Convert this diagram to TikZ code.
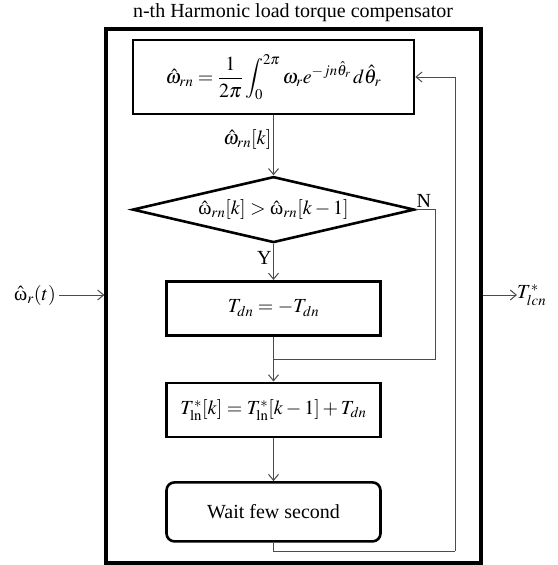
\documentclass[tikz,border=0pt]{standalone}
\usepackage{mathptmx}
\usepackage{fontspec}
\setmainfont{Liberation Serif}
\usetikzlibrary{positioning,shapes.geometric,arrows.meta,calc}
\tikzset{
  % --- flowchart blocks -------------------------------------------------------
  proc/.style={draw,line width=2.6pt,minimum width=214pt,minimum height=54pt,
               inner sep=2pt},
  dec/.style={diamond,draw,line width=2.6pt,aspect=4.27,minimum width=282pt,
              minimum height=66pt,inner sep=0pt},
  waitbox/.style={proc,rounded corners=8pt,minimum height=59pt},
  frm/.style={draw,line width=3.2pt,minimum width=375pt,minimum height=534pt},
  % --- connectors ------------------------------------------------------------
  ln/.style={black!70,line width=1pt},
  ar/.style={ln,-{Straight Barb[length=6pt,width=10pt]}},
  lab/.style={font=\fontsize{20}{24}\selectfont,inner sep=1.5pt,text=black},
}
\begin{document}
\begin{tikzpicture}[x=1pt,y=-1pt,font=\fontsize{20}{24}\selectfont]
  \useasboundingbox (0,0) rectangle (557,565);
  \node[frm] (frame) at (293.5,296) {};
  \node (title) at (293,13) {n-th Harmonic load torque compensator};
  \node[proc,minimum width=281pt,minimum height=74pt] (avg) at (273.5,77)
    {$\displaystyle \hat{\omega}_{rn}=\frac{1}{2\pi}\int_0^{2\pi}\omega_r e^{-jn\hat{\theta}_r}\,d\hat{\theta}_r$};
  \node[dec,below=60pt of avg] (cmp)
    {$\hat{\mbox{ω}}_{rn}[k]>\hat{\mbox{ω}}_{rn}[k-1]$};
  \node[proc,below=36pt of cmp] (neg) {$T_{dn}=-T_{dn}$};
  \node[proc,below=45pt of neg] (acc)
    {$T^{*}_{\mathrm{ln}}[k]=T^{*}_{\mathrm{ln}}[k-1]+T_{dn}$};
  \node[waitbox,below=43pt of acc] (wait) {Wait few second};
  \coordinate (join) at ($(neg.south)!.5!(acc.north)$);
  \coordinate (fb) at (455,551);
  \draw[ar] (avg) -- node[lab,left,pos=.4] {$\hat{\omega}_{rn}[k]$} (cmp);
  \draw[ar] (cmp) -- node[lab,left,pos=.4] {Y} (neg);
  \draw[ln] (cmp.east) -- node[lab,above,pos=.4] {N} ++(20,0) |- (join);
  \draw[ar] (neg) -- (acc);
  \draw[ar] (acc) -- (wait);
  \draw[ln] (wait.south) |- (fb);
  \draw[ar] (fb) |- (avg.east);
  % --- signals in and out ----------------------------------------------------
  \node (win) at (35,295) {$\hat{\mbox{ω}}_r(t)$};
  \node[anchor=west,inner sep=0pt] (tout) at (517,295) {$T^{*}_{lcn}$};
  \draw[ar] (win) -- (win -| frame.west);
  \draw[ar] (tout -| frame.east) -- (tout.west);
\end{tikzpicture}
\end{document}
